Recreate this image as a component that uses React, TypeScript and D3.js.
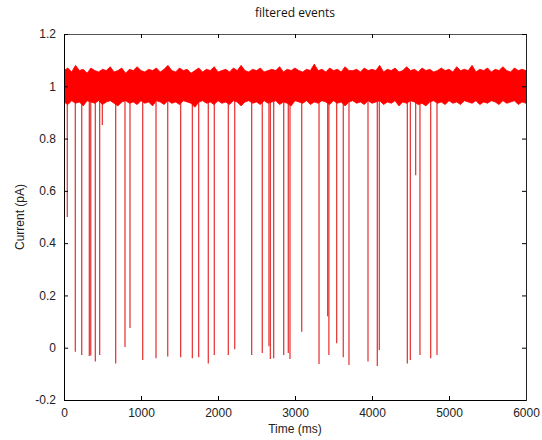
import React, { useEffect, useRef } from "react";
import * as d3 from "d3";

// x ticks (ms) and y ticks (pA)
const timeTicks = [0, 1000, 2000, 3000, 4000, 5000, 6000];
const currentTicks = [-0.2, 0, 0.2, 0.4, 0.6, 0.8, 1.0, 1.2];

// noise band envelope, one value every 50 ms from 0 to 6000
const upperEnv = [
  1.06, 1.07, 1.055, 1.08, 1.06, 1.065, 1.05, 1.07, 1.06, 1.055,
  1.065, 1.06, 1.075, 1.055, 1.06, 1.07, 1.05, 1.065, 1.06, 1.075,
  1.06, 1.055, 1.065, 1.06, 1.07, 1.055, 1.065, 1.08, 1.06, 1.055,
  1.07, 1.06, 1.065, 1.05, 1.06, 1.07, 1.055, 1.065, 1.06, 1.075,
  1.055, 1.06, 1.065, 1.055, 1.07, 1.06, 1.08, 1.06, 1.055, 1.065,
  1.06, 1.07, 1.055, 1.06, 1.065, 1.06, 1.075, 1.055, 1.065, 1.06,
  1.07, 1.06, 1.055, 1.065, 1.06, 1.085, 1.06, 1.065, 1.055, 1.07,
  1.06, 1.065, 1.055, 1.075, 1.06, 1.06, 1.065, 1.055, 1.07, 1.06,
  1.065, 1.06, 1.08, 1.055, 1.065, 1.06, 1.07, 1.055, 1.06, 1.075,
  1.06, 1.065, 1.055, 1.07, 1.06, 1.065, 1.055, 1.06, 1.07, 1.06,
  1.065, 1.055, 1.075, 1.06, 1.065, 1.06, 1.08, 1.055, 1.065, 1.06,
  1.07, 1.055, 1.065, 1.06, 1.075, 1.06, 1.055, 1.07, 1.06, 1.065, 1.06
];
const lowerEnv = [
  0.94, 0.93, 0.945, 0.935, 0.94, 0.925, 0.945, 0.94, 0.935, 0.945,
  0.93, 0.94, 0.945, 0.935, 0.925, 0.94, 0.945, 0.935, 0.94, 0.93,
  0.945, 0.935, 0.94, 0.925, 0.945, 0.94, 0.93, 0.945, 0.935, 0.94,
  0.93, 0.945, 0.94, 0.935, 0.92, 0.94, 0.945, 0.935, 0.94, 0.93,
  0.945, 0.935, 0.94, 0.93, 0.945, 0.94, 0.925, 0.94, 0.945, 0.935,
  0.94, 0.93, 0.945, 0.935, 0.94, 0.945, 0.93, 0.94, 0.935, 0.925,
  0.945, 0.94, 0.935, 0.945, 0.93, 0.94, 0.935, 0.945, 0.94, 0.93,
  0.945, 0.935, 0.94, 0.925, 0.94, 0.945, 0.935, 0.94, 0.93, 0.945,
  0.935, 0.94, 0.945, 0.93, 0.94, 0.935, 0.945, 0.925, 0.94, 0.935,
  0.945, 0.94, 0.93, 0.935, 0.925, 0.94, 0.945, 0.935, 0.94, 0.93,
  0.945, 0.935, 0.94, 0.93, 0.945, 0.94, 0.935, 0.945, 0.93, 0.94,
  0.935, 0.945, 0.94, 0.93, 0.945, 0.935, 0.94, 0.945, 0.93, 0.94, 0.935
];

// event times (ms) and the lowest current reached (pA)
const eventTimes = [
  43, 147, 230, 329, 347, 407, 463, 498, 671, 792,
  857, 1022, 1195, 1347, 1515, 1667, 1749, 1874, 1952, 2134,
  2217, 2437, 2575, 2662, 2680, 2723, 2853, 2913, 2935, 3087,
  3312, 3424, 3440, 3541, 3627, 3701, 3948, 4069, 4095, 4459,
  4498, 4567, 4623, 4762, 4844
];
const eventDepths = [
  0.5, -0.015, -0.028, -0.032, -0.03, -0.053, -0.028, 0.852, -0.06, 0.003,
  0.075, -0.047, -0.04, -0.034, -0.036, -0.04, -0.036, -0.06, -0.028, -0.028,
  -0.006, -0.028, -0.02, 0.006, -0.043, -0.04, -0.028, -0.02, -0.043, 0.061,
  -0.062, 0.12, -0.028, 0.017, -0.036, -0.066, -0.053, -0.07, -0.009, -0.06,
  -0.047, 0.66, -0.028, -0.04, -0.028
];

const W = 542, H = 440;
const margin = { top: 34, right: 16, bottom: 40, left: 64 };

export default function App() {
  const ref = useRef<SVGSVGElement>(null);

  useEffect(() => {
    const svg = d3.select(ref.current);
    svg.selectAll("*").remove();

    const w = W - margin.left - margin.right;
    const h = H - margin.top - margin.bottom;

    const x = d3.scaleLinear().domain([0, 6000]).range([0, w]);
    const y = d3.scaleLinear().domain([-0.2, 1.2]).range([h, 0]);

    const g = svg.append("g")
      .attr("transform", "translate(" + margin.left + "," + margin.top + ")");

    const step = 6000 / (upperEnv.length - 1);
    const band = upperEnv.map((u, i) => ({ t: i * step, hi: u, lo: lowerEnv[i] }));

    // clip so nothing spills over the box
    svg.append("defs").append("clipPath").attr("id", "plotclip")
      .append("rect").attr("width", w).attr("height", h);

    const plot = g.append("g").attr("clip-path", "url(#plotclip)");

    // events - vertical drops from the baseline
    const drop = d3.line<[number, number]>()
      .x(d => x(d[0]))
      .y(d => y(d[1]));

    eventTimes.forEach((t, i) => {
      plot.append("path")
        .attr("d", drop([[t, 0.95], [t, eventDepths[i]]]))
        .attr("fill", "none")
        .attr("stroke", "#e21b1b")
        .attr("stroke-width", 1.3)
        .attr("stroke-opacity", 0.85);
    });

    // noise band
    const area = d3.area<{ t: number; hi: number; lo: number }>()
      .x(d => x(d.t))
      .y0(d => y(d.lo))
      .y1(d => y(d.hi));

    plot.append("path")
      .datum(band)
      .attr("d", area)
      .attr("fill", "#ff0000")
      .attr("stroke", "#ff0000")
      .attr("stroke-width", 0.8);

    // axes, MATLAB style: ticks inside, on all four sides
    const fmt = (d: number) => String(+d.toFixed(1));
    const tickFont = "'Liberation Sans', Arial, sans-serif";

    const bottom = g.append("g").attr("transform", "translate(0," + h + ")")
      .call(d3.axisBottom(x).tickValues(timeTicks).tickSize(-4).tickPadding(8).tickFormat(d3.format("d")));
    const top = g.append("g")
      .call(d3.axisTop(x).tickValues(timeTicks).tickSize(-4).tickFormat(() => ""));
    const left = g.append("g")
      .call(d3.axisLeft(y).tickValues(currentTicks).tickSize(-4).tickPadding(8).tickFormat(d => fmt(+d)));
    const right = g.append("g").attr("transform", "translate(" + w + ",0)")
      .call(d3.axisRight(y).tickValues(currentTicks).tickSize(-4).tickFormat(() => ""));

    [bottom, top, left, right].forEach(a => {
      a.select(".domain").attr("stroke", "#000").attr("stroke-width", 1);
      a.selectAll(".tick line").attr("stroke", "#000");
      a.selectAll("text")
        .attr("font-family", tickFont)
        .attr("font-size", 12)
        .attr("fill", "#222");
    });
    top.select(".domain").attr("stroke", "#555");
    right.select(".domain").attr("stroke", "#222");

    // labels
    svg.append("text")
      .attr("x", margin.left + w / 2)
      .attr("y", 17)
      .attr("text-anchor", "middle")
      .attr("font-family", "'Open Sans', 'Noto Sans', sans-serif")
      .attr("font-size", 12)
      .attr("fill", "#111")
      .text("filtered events");

    svg.append("text")
      .attr("x", margin.left + w / 2)
      .attr("y", 433)
      .attr("text-anchor", "middle")
      .attr("font-family", tickFont)
      .attr("font-size", 12)
      .attr("fill", "#222")
      .text("Time (ms)");

    svg.append("text")
      .attr("transform", "translate(24," + (margin.top + h / 2) + ") rotate(-90)")
      .attr("text-anchor", "middle")
      .attr("font-family", tickFont)
      .attr("font-size", 12)
      .attr("fill", "#222")
      .text("Current (pA)");
  }, []);

  return (
    <svg ref={ref} width={W} height={H}
      style={{ position: "absolute", left: 0, top: 0, background: "#fff" }} />
  );
}
